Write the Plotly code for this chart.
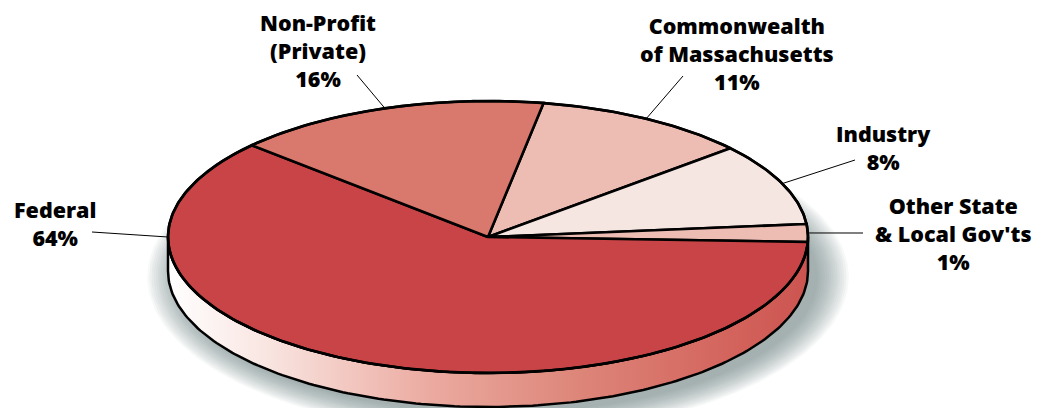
import numpy as np
import plotly.graph_objects as go

# ---- data ----
categories = ["Commonwealth of Massachusetts", "Industry", "Other State & Local Gov'ts", "Federal", "Non-Profit (Private)"]
label_lines = [["Commonwealth", "of Massachusetts", "11%"],
               ["Industry", "8%"],
               ["Other State", "& Local Gov'ts", "1%"],
               ["Federal", "64%"],
               ["Non-Profit", "(Private)", "16%"]]
shares = [10.9, 9.8, 2.1, 61.2, 16.0]          # slice sizes as drawn (percent of circle)
colors = ["#EDBDB3", "#F6E6E2", "#EDBDB3", "#C84446", "#D9786D"]

# ---- style / layout ----
W, H = 1044, 408
OFF = 8   # page body margin of the html page
CX, CY, RX, RY, DEPTH = 488, 237, 320, 136, 34
START = 80.0   # degrees, boundary between Non-Profit and Commonwealth; slices run clockwise
label_pos = [(737, 53), (883, 147), (953, 233), (55, 223), (318, 50)]
leader_out = [(683, 76), (855, 160), (863, 233), (92, 232), (357, 75)]
leader_angle = [None, None, None, 180.0, None]   # None -> slice middle
FONT = dict(family="Open Sans, Lato, sans-serif", size=21.5, color="black", weight=800)


def ell(t_deg, cy=CY, rx=RX, ry=RY, cx=CX):
    t = np.radians(t_deg)
    return cx + rx * np.cos(t), cy - ry * np.sin(t)


fig = go.Figure()

# shadow (stacked translucent ellipses)
for k in range(14, -1, -1):
    e = 2.2 * k
    t = np.linspace(0, 360, 241)
    x, y = ell(t, cy=CY + DEPTH + 6, rx=RX + e, ry=RY + 0.7 * e, cx=CX + 10)
    fig.add_trace(go.Scatter(x=x, y=y, mode="lines", fill="toself", line=dict(width=0),
                             fillcolor="rgba(95,108,114,0.05)", hoverinfo="skip"))

# side wall
t_front = np.linspace(180, 360, 181)
xt, yt = ell(t_front)
xb, yb = ell(t_front[::-1], cy=CY + DEPTH)
fig.add_trace(go.Scatter(
    x=np.concatenate([xt, xb, xt[:1]]), y=np.concatenate([yt, yb, yt[:1]]),
    mode="lines", fill="toself", line=dict(color="black", width=2.5),
    fillgradient=dict(type="horizontal",
                      colorscale=[[0, "#FFFFFF"], [0.15, "#F9E6E2"], [0.41, "#EBAAA0"],
                                  [0.63, "#DE877B"], [0.9, "#D2615A"], [1, "#CC5450"]]),
    hoverinfo="skip"))

# top face slices
total = sum(shares)
a0 = START
mids = []
for val, col in zip(shares, colors):
    span = 360.0 * val / total
    a1 = a0 - span
    tt = np.linspace(a0, a1, max(int(span * 2), 4))
    x, y = ell(tt)
    fig.add_trace(go.Scatter(x=np.concatenate([[CX], x, [CX]]), y=np.concatenate([[CY], y, [CY]]),
                             mode="lines", fill="toself", fillcolor=col,
                             line=dict(color="black", width=2.6), hoverinfo="skip"))
    mids.append((a0 + a1) / 2)
    a0 = a1

# top outline
t = np.linspace(0, 360, 361)
x, y = ell(t)
fig.add_trace(go.Scatter(x=x, y=y, mode="lines", line=dict(color="black", width=2.6), hoverinfo="skip"))

# leader lines
for i in range(len(shares)):
    ang = leader_angle[i] if leader_angle[i] is not None else mids[i]
    xi, yi = ell(ang)
    xo, yo = leader_out[i]
    fig.add_trace(go.Scatter(x=[xo, xi], y=[yo, yi], mode="lines",
                             line=dict(color="black", width=1), hoverinfo="skip"))

# labels
for lines, (lx, ly) in zip(label_lines, label_pos):
    fig.add_annotation(x=lx, y=ly, text="<br>".join(lines), showarrow=False,
                       xanchor="center", yanchor="middle", align="center", font=FONT)

fig.update_layout(width=W - OFF, height=H - OFF, margin=dict(l=0, r=0, t=0, b=0),
                  paper_bgcolor="white", plot_bgcolor="white", showlegend=False,
                  xaxis=dict(range=[OFF, W], visible=False, fixedrange=True),
                  yaxis=dict(range=[H, OFF], visible=False, fixedrange=True))
fig.write_html("out.html")
